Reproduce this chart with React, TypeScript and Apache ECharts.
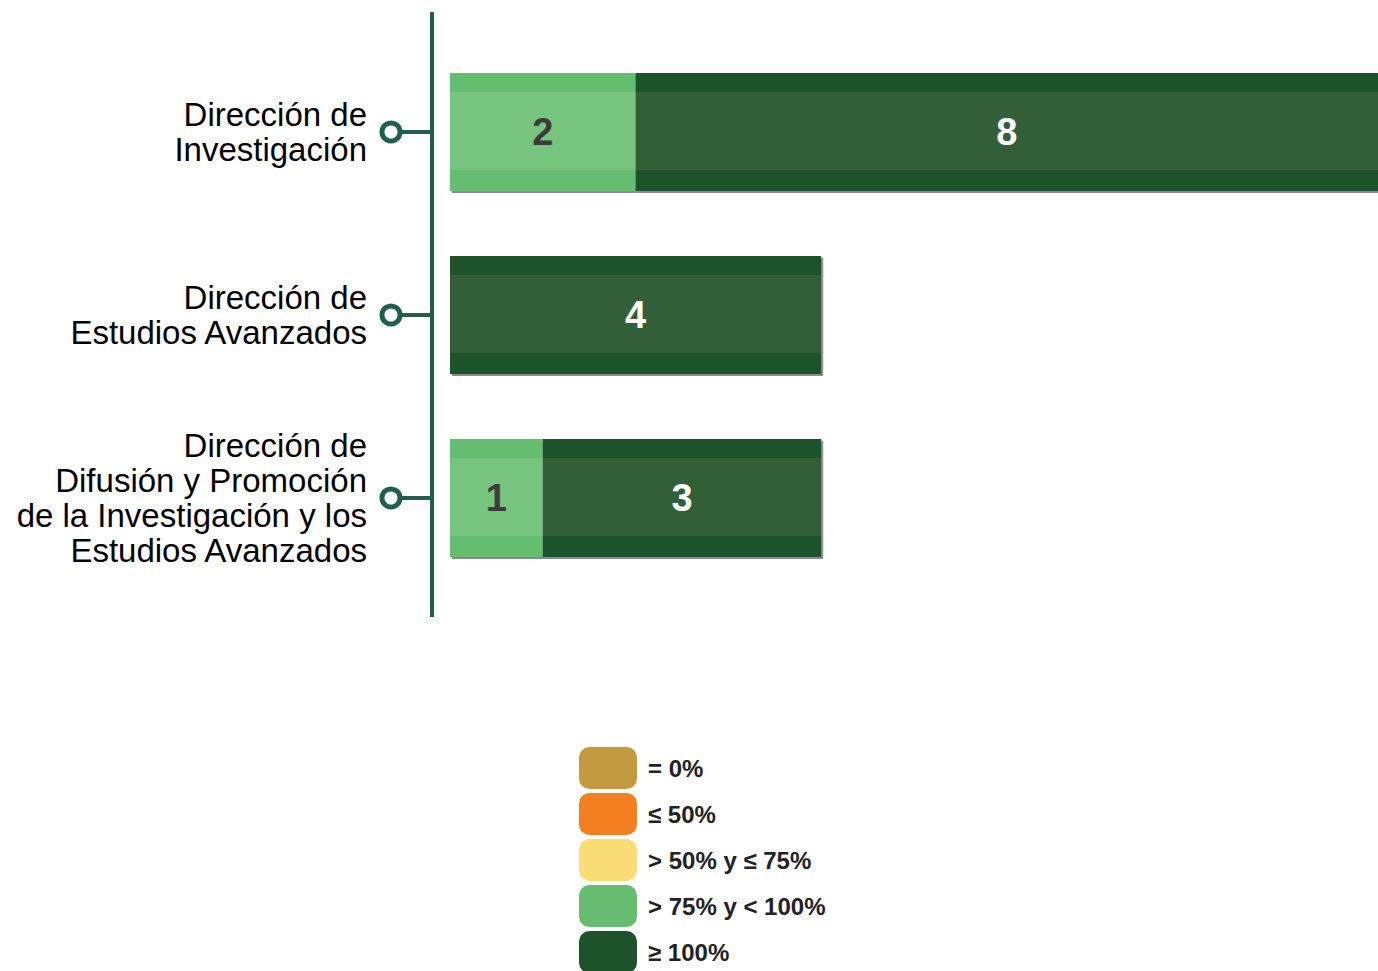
import React, { useEffect, useRef } from "react";
import * as echarts from "echarts";

const categories = [
  "Dirección de\nInvestigación",
  "Dirección de\nEstudios Avanzados",
  "Dirección de\nDifusión y Promoción\nde la Investigación y los\nEstudios Avanzados",
];
const legendNames = ["= 0%", "≤ 50%", "> 50% y ≤ 75%", "> 75% y < 100%", "≥ 100%"];
const legendColors = ["#c49a41", "#f47f20", "#fbdd77", "#66bd6f", "#1e522b"];
const valuesZero: number[] = [0, 0, 0];
const valuesLow: number[] = [0, 0, 0];
const valuesMid: number[] = [0, 0, 0];
const valuesHigh: number[] = [2, 0, 1];
const valuesFull: number[] = [8, 4, 3];

const bandGrad = (edge: string, mid: string) =>
  new echarts.graphic.LinearGradient(0, 0, 0, 1, [
    { offset: 0, color: edge },
    { offset: 0.16, color: edge },
    { offset: 0.16, color: mid },
    { offset: 0.82, color: mid },
    { offset: 0.82, color: edge },
    { offset: 1, color: edge },
  ]);

export default function App() {
  const ref = useRef<HTMLDivElement>(null);
  useEffect(() => {
    if (!ref.current) return;
    const chart = echarts.init(ref.current, null, { renderer: "svg" });
    const axisColor = "#225e4c";
    const shadow = {
      shadowColor: "rgba(0,0,0,0.45)",
      shadowOffsetX: 2,
      shadowOffsetY: 2,
      shadowBlur: 0,
    };
    const barLabel = (color: string) => ({
      show: true,
      position: "inside",
      color,
      fontSize: 38,
      fontWeight: "bold",
      fontFamily: "Liberation Sans, Arial, sans-serif",
      formatter: (p: any) => (p.value > 0 ? String(p.value) : ""),
    });
    const seriesData = [valuesZero, valuesLow, valuesMid, valuesHigh, valuesFull];
    const barSeries = legendNames.map((name, i) => {
      let color: any = legendColors[i];
      let labelColor = "#3c3c3c";
      if (i === 3) color = bandGrad("#65bd6f", "#77c47e");
      if (i === 4) {
        color = bandGrad("#1e532c", "#335f37");
        labelColor = "#ffffff";
      }
      return {
        name,
        type: "bar",
        stack: "total",
        barWidth: 118,
        data: seriesData[i],
        itemStyle: { color, ...shadow },
        label: barLabel(labelColor),
      };
    });
    const ticksSeries = {
      type: "custom",
      name: "ticks",
      silent: true,
      clip: false,
      data: categories.map((_, i) => [0, i]),
      encode: { x: 0, y: 1 },
      renderItem: (params: any, api: any) => {
        const p = api.coord([0, api.value(1)]);
        return {
          type: "group",
          children: [
            {
              type: "line",
              shape: { x1: p[0] - 50, y1: p[1], x2: p[0] - 18, y2: p[1] },
              style: { stroke: axisColor, lineWidth: 4 },
            },
            {
              type: "circle",
              shape: { cx: p[0] - 59, cy: p[1], r: 9 },
              style: { fill: "#ffffff", stroke: axisColor, lineWidth: 5 },
            },
          ],
        };
      },
    };
    chart.setOption({
      animation: false,
      grid: { left: 450, right: 0, top: 40.5, bottom: 381.5, containLabel: false },
      xAxis: {
        type: "value",
        min: 0,
        max: 10,
        show: false,
      },
      yAxis: {
        type: "category",
        inverse: true,
        data: categories,
        axisLine: { show: false },
        axisTick: { show: false },
        axisLabel: {
          margin: 83,
          align: "right",
          fontSize: 33,
          lineHeight: 35,
          color: "#000000",
          fontFamily: "Liberation Sans, Arial, sans-serif",
        },
      },
      legend: {
        orient: "vertical",
        left: 579,
        top: 747,
        height: 240,
        padding: 0,
        itemWidth: 58,
        itemHeight: 42,
        itemGap: 4,
        icon: "roundRect",
        selectedMode: false,
        data: legendNames.map((n, i) => ({
          name: n,
          itemStyle: { color: legendColors[i], shadowBlur: 0, shadowOffsetX: 0, shadowOffsetY: 0 },
        })),
        textStyle: {
          fontSize: 24,
          fontWeight: "bold",
          color: "#222222",
          padding: [0, 0, 0, 6],
          fontFamily: "Liberation Sans, Arial, sans-serif",
        },
      },
      graphic: [
        {
          type: "line",
          shape: { x1: 432, y1: 12, x2: 432, y2: 617 },
          style: { stroke: axisColor, lineWidth: 4 },
          z: 10,
        },
      ],
      series: [...barSeries, ticksSeries],
    });
    return () => chart.dispose();
  }, []);
  return (
    <div
      ref={ref}
      style={{ position: "absolute", left: 0, top: 0, width: 1378, height: 971 }}
    />
  );
}
